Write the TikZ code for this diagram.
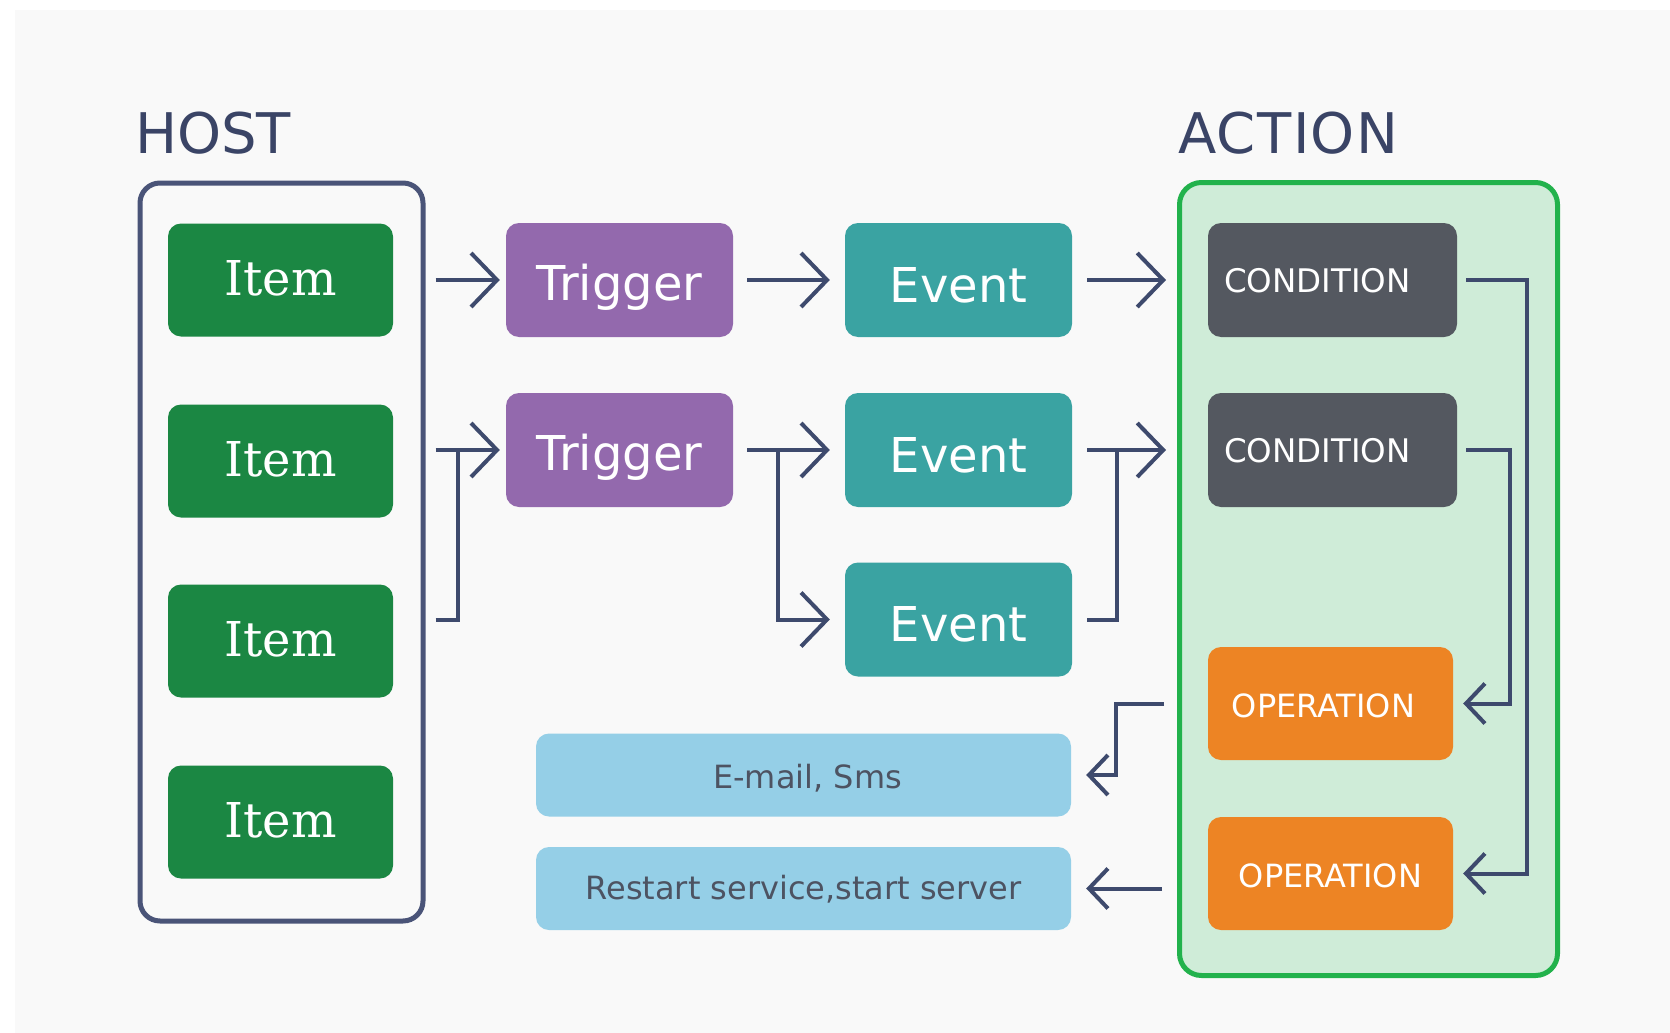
\documentclass[tikz,border=0pt]{standalone}
\usepackage{fontspec}
\setmainfont{DejaVu Sans}
\newfontfamily\itemfont{DejaVu Serif}
\usetikzlibrary{arrows.meta}

\definecolor{pageGray}{HTML}{F9F9F9}
\definecolor{itemGreen}{HTML}{1B8743}
\definecolor{trigPurple}{HTML}{9369AD}
\definecolor{eventTeal}{HTML}{3AA3A2}
\definecolor{condGray}{HTML}{545860}
\definecolor{opOrange}{HTML}{ED8424}
\definecolor{outBlue}{HTML}{95CFE7}
\definecolor{actFill}{HTML}{CFECD8}
\definecolor{actBorder}{HTML}{22B24C}
\definecolor{wire}{HTML}{3E4A6D}
\definecolor{hostBorder}{HTML}{4A5478}
\definecolor{titleInk}{HTML}{3A4466}
\definecolor{outInk}{HTML}{4D5362}

\begin{document}
\begin{tikzpicture}[x=1pt,y=-1pt,
  box/.style={rounded corners=13pt, inner sep=0pt, text=white, text depth=0pt},
  itembox/.style={box, fill=itemGreen, minimum width=225pt, minimum height=113pt,
    text height=30pt, font={\itemfont\fontsize{48}{58}\selectfont}},
  trigbox/.style={box, fill=trigPurple, minimum width=227pt, minimum height=114pt,
    text height=40pt, font={\fontsize{48}{58}\selectfont}},
  eventbox/.style={box, fill=eventTeal, minimum width=227pt, minimum height=114pt,
    text height=44pt, font={\fontsize{48}{58}\selectfont}},
  condbox/.style={box, fill=condGray, minimum width=249pt, minimum height=114pt,
    text height=24pt, font={\fontsize{32.5}{38}\selectfont}},
  opbox/.style={box, fill=opOrange, minimum width=245pt, minimum height=113pt,
    text height=27pt, font={\fontsize{32}{38}\selectfont}},
  outbox/.style={box, fill=outBlue, text=outInk, minimum width=535pt, minimum height=83pt,
    font={\fontsize{32}{38}\selectfont}},
  title/.style={anchor=base west, inner sep=0pt, text=titleInk,
    font={\fontsize{56}{66}\selectfont}},
  wireline/.style={draw=wire, line width=4pt},
  bigarrow/.style={wireline, -{Straight Barb[length=26pt,width=54pt]}},
  smallarrow/.style={wireline, -{Straight Barb[length=19pt,width=40pt]}}
]
% page and backdrop
\fill[white] (0,0) rectangle (1670,1033);
\fill[pageGray] (15,10) rectangle (1670,1033);
\useasboundingbox (0,0) rectangle (1670,1033);

% headings
\node[title] (hostTitle) at (135,153) {HOST};
\node[title] (actionTitle) at (1178,153) {\addfontfeature{LetterSpace=2.5}ACTION};

% containers
\node[draw=hostBorder, line width=5pt, rounded corners=20pt, fill=pageGray,
      minimum width=283pt, minimum height=738pt, inner sep=0pt] (host) at (281.5,552) {};
\node[draw=actBorder, line width=5pt, rounded corners=22pt, fill=actFill,
      minimum width=378pt, minimum height=793pt, inner sep=0pt] (action) at (1368.5,579) {};

% host items
\node[itembox] (item1) at (280.5,280) {Item};
\node[itembox] (item2) at (280.5,461) {Item};
\node[itembox] (item3) at (280.5,641) {Item};
\node[itembox] (item4) at (280.5,822) {Item};

% triggers and events
\node[trigbox] (trig1) at (619.5,280) {Trigger};
\node[trigbox] (trig2) at (619.5,450) {Trigger};
\node[eventbox] (ev1) at (958.5,280) {Event};
\node[eventbox] (ev2) at (958.5,450) {Event};
\node[eventbox] (ev3) at (958.5,619.5) {Event};

% action contents
\node[condbox] (cond1) at (1332.5,280) {\kern-15pt CONDITION\kern15pt};
\node[condbox] (cond2) at (1332.5,450) {\kern-15pt CONDITION\kern15pt};
\node[opbox] (op1) at (1330.5,703.5) {\kern-7pt OPERATION\kern7pt};
\node[opbox] (op2) at (1330.5,873.5) {OPERATION};

% outcomes
\node[outbox, text height=26pt] (email) at (803.5,775) {\kern4pt E-mail, Sms\kern-4pt};
\node[outbox, text height=21pt] (restart) at (803.5,888.5) {Restart service,start server};

% host -> triggers
\draw[bigarrow, shorten >=6pt] ([xshift=10pt]host.east |- trig1) -- (trig1.west);
\draw[bigarrow, shorten >=6pt] ([xshift=10pt]host.east |- trig2) -- (trig2.west);
\draw[wireline] ([xshift=10pt]host.east |- ev3) -| ([xshift=32pt]host.east |- trig2);

% triggers -> events
\draw[bigarrow, shorten <=14pt, shorten >=15pt] (trig1.east) -- (ev1.west);
\draw[bigarrow, shorten <=14pt, shorten >=15pt] (trig2.east) -- (ev2.west);
\draw[bigarrow, shorten >=15pt] ([xshift=45pt]trig2.east) |- (ev3.west);

% events -> action
\draw[bigarrow, shorten <=15pt, shorten >=11pt] (ev1.east) -- (action.west |- ev1);
\draw[bigarrow, shorten <=15pt, shorten >=11pt] (ev2.east) -- (action.west |- ev2);
\draw[wireline] ([xshift=15pt]ev3.east) -| ([xshift=45pt]ev2.east);

% conditions -> operations
\draw[smallarrow, shorten >=10pt] ([xshift=9pt]cond1.east) -- ([xshift=70pt]cond1.east) |- (op2.east);
\draw[smallarrow, shorten >=10pt] ([xshift=9pt]cond2.east) -- ([xshift=53pt]cond2.east) |- (op1.east);

% operations -> outcomes
\draw[smallarrow, shorten >=15pt] ([xshift=-13pt]action.west |- op1) -- ([xshift=-61pt]action.west |- op1) |- (email.east);
\draw[smallarrow, shorten >=15pt] ([xshift=-15pt]action.west |- restart) -- (restart.east);
\end{tikzpicture}
\end{document}
